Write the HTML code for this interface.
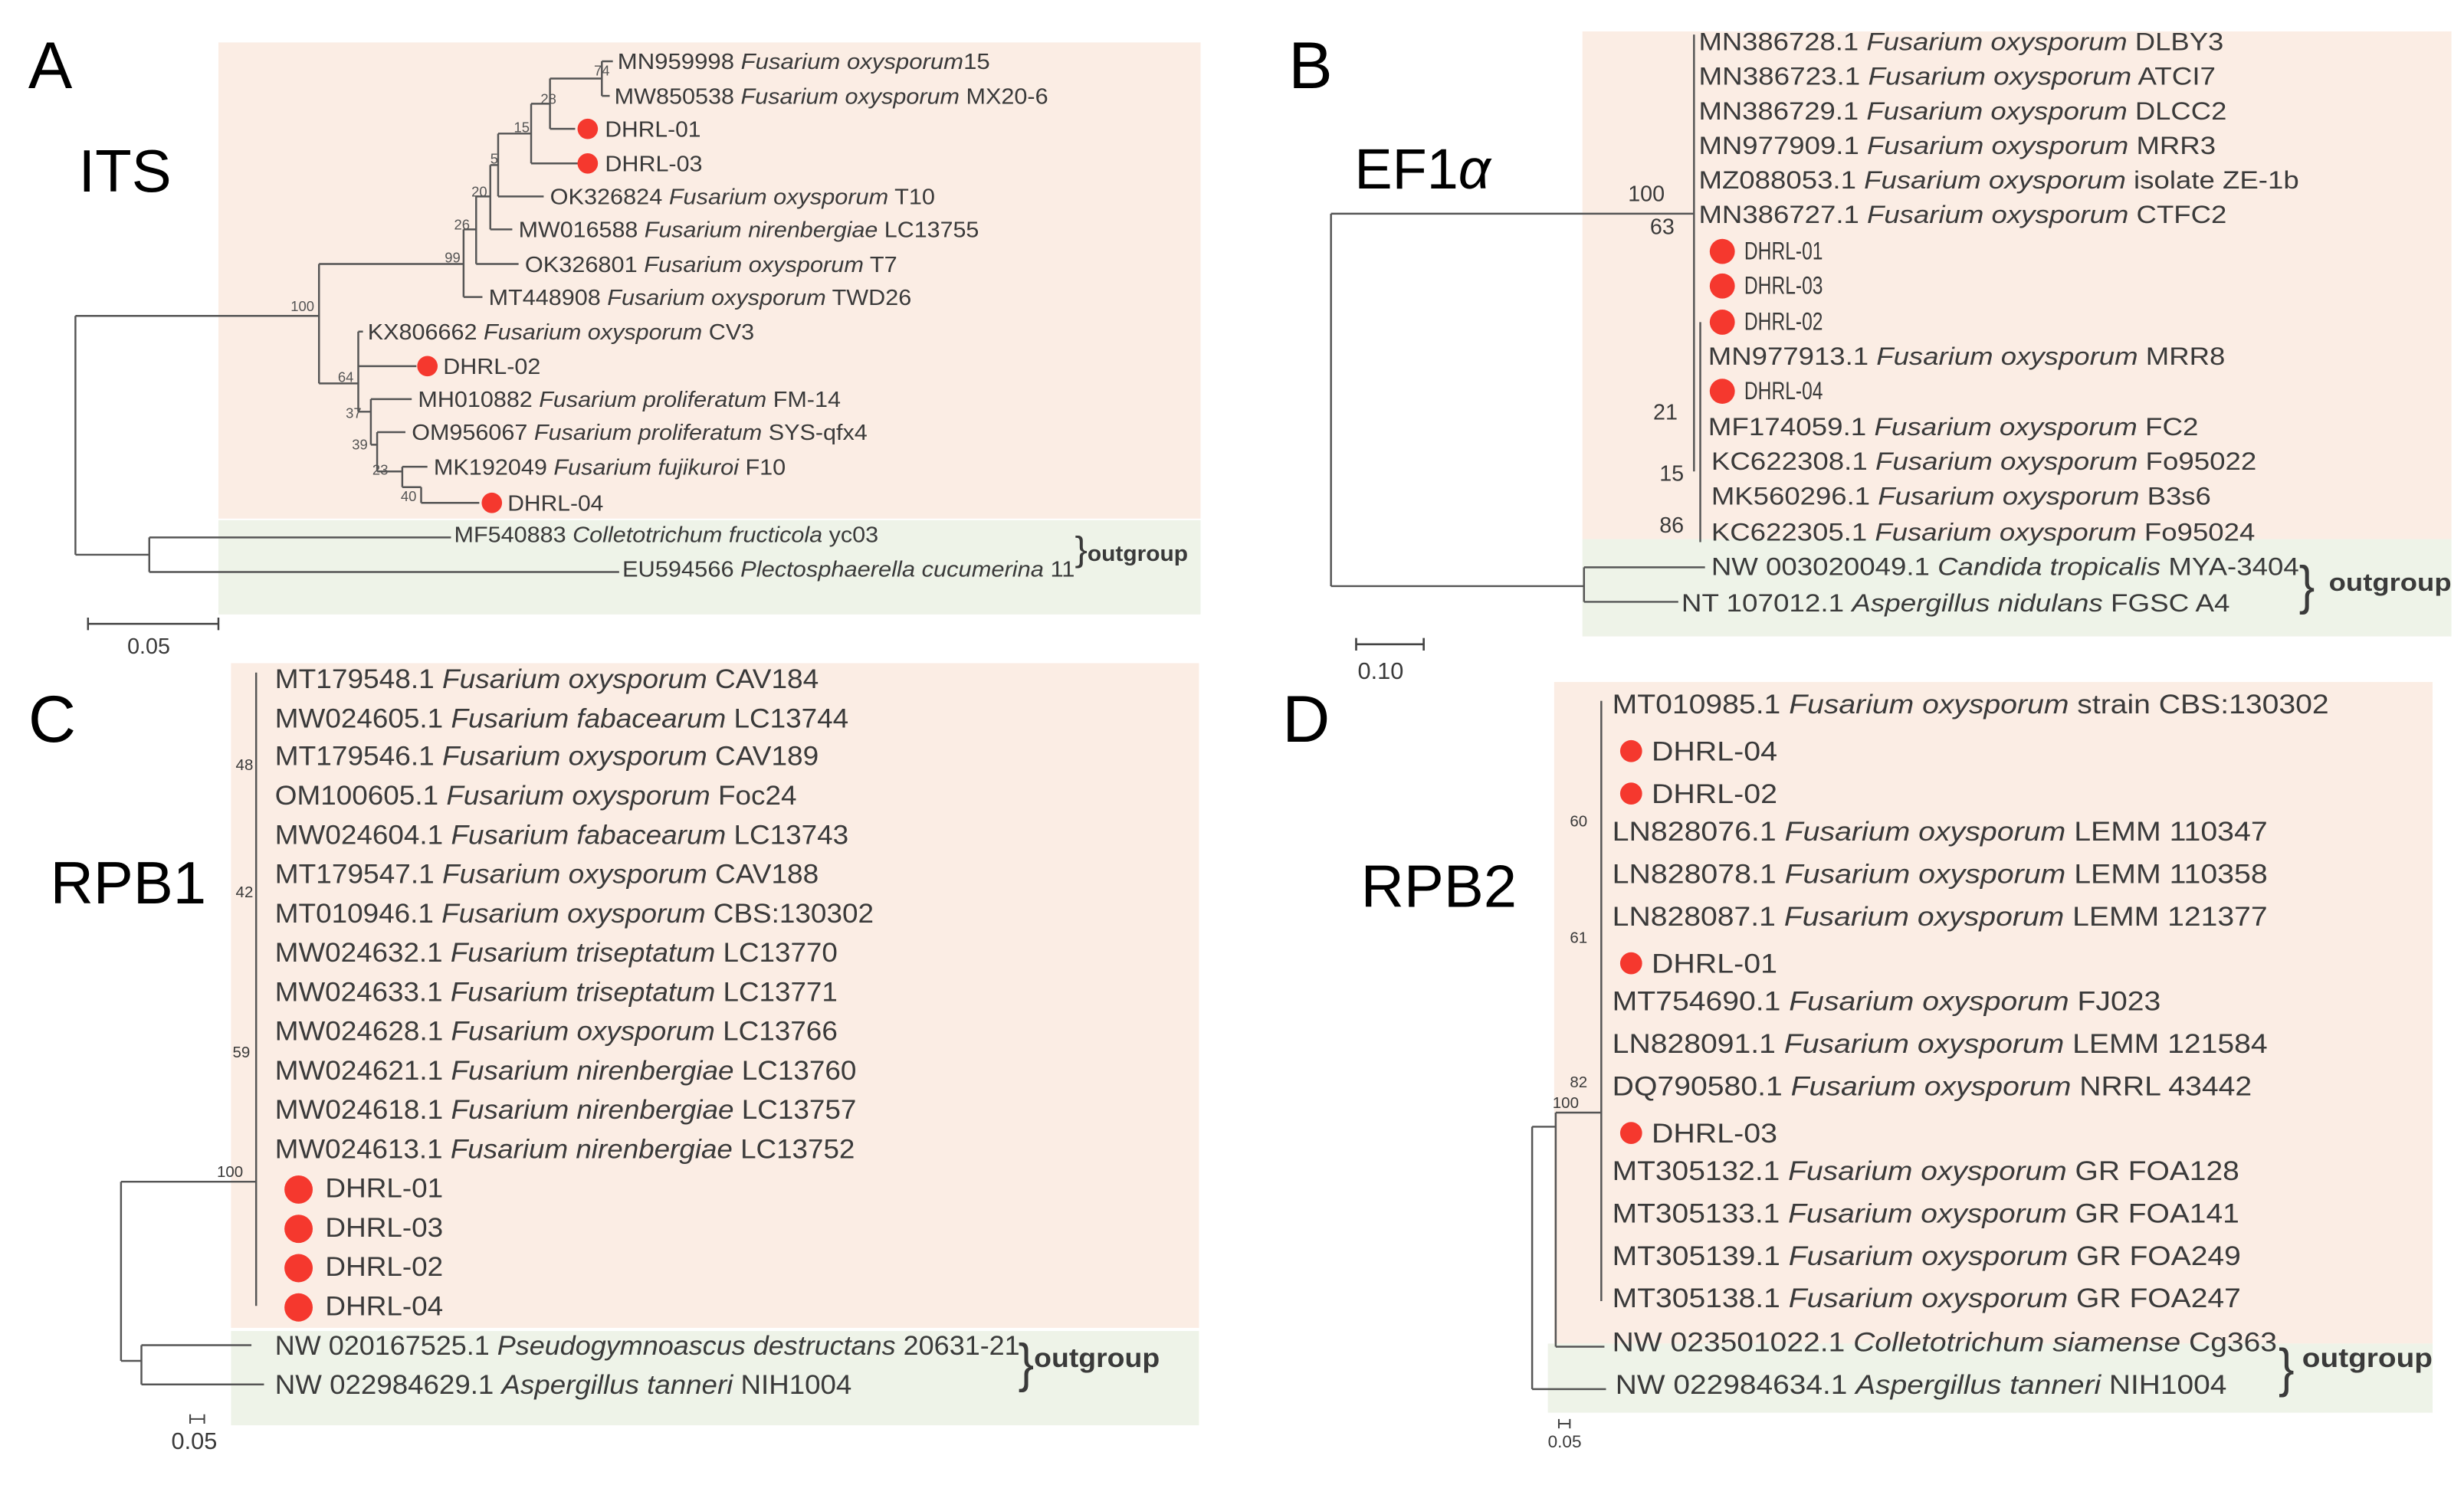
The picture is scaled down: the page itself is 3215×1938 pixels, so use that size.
<!DOCTYPE html>
<html><head><meta charset="utf-8"><style>html,body{margin:0;padding:0;background:#fff}svg{display:block}text{font-family:"Liberation Sans",sans-serif;fill:#3a3a3a}.i{font-style:italic}.b{font-size:9px;fill:#555}</style></head><body>
<svg width="3215" height="1938" viewBox="0 0 1568 945" preserveAspectRatio="none" xmlns="http://www.w3.org/2000/svg">
<rect x="139" y="27" width="625" height="303" fill="#fbede4"/>
<rect x="139" y="331" width="625" height="60" fill="#eef3e8"/>
<rect x="1007" y="20" width="553" height="323" fill="#fbede4"/>
<rect x="1007" y="343" width="553" height="62" fill="#eef3e8"/>
<rect x="147" y="422" width="616" height="423" fill="#fbede4"/>
<rect x="147" y="847" width="616" height="60" fill="#eef3e8"/>
<rect x="989" y="434" width="559" height="421" fill="#fbede4"/>
<rect x="985" y="855" width="563" height="44" fill="#eef3e8"/>

<text x="18" y="56" font-size="42" style="fill:#000">A</text>
<text x="50" y="122" font-size="38" style="fill:#000">ITS</text>
<text x="820" y="56" font-size="42" style="fill:#000">B</text>
<text x="862" y="120" font-size="36" style="fill:#000">EF1<tspan font-style="italic">α</tspan></text>
<text x="18" y="472" font-size="42" style="fill:#000">C</text>
<text x="32" y="575" font-size="38" style="fill:#000">RPB1</text>
<text x="816" y="472" font-size="42" style="fill:#000">D</text>
<text x="866" y="577" font-size="38" style="fill:#000">RPB2</text>

<g stroke="#555" stroke-width="1.2" fill="none">
<path d="M48 201V353M48 201H203M48 353H95M95 342V364M95 342H287M95 364H394"/>
<path d="M203 168V244M203 168H295M295 146V189M295 189H307M295 146H303M303 125V168M303 168H330M303 125H312M312 105V146M312 146H326M312 105H317M317 85V125M317 125H346M317 85H338M338 66V104M338 104H368M338 66H350M350 50V82M350 82H366M350 50H383M383 39V61M383 39H390M383 61H388"/>
<path d="M203 244H228M228 211V262M228 211H231M228 233H265M228 262H236M236 254V283M236 254H262M236 283H240M240 275V300M240 275H258M240 300H256M256 297V310M256 297H272M256 310H268M268 310V320M268 320H305"/>
</g>
<g class="b">
<text x="378" y="48" class="b">74</text><text x="344" y="66" class="b">28</text><text x="327" y="84" class="b">15</text><text x="312" y="104" class="b">5</text><text x="300" y="125" class="b">20</text><text x="289" y="146" class="b">26</text><text x="283" y="167" class="b">99</text><text x="185" y="198" class="b">100</text><text x="215" y="243" class="b">64</text><text x="220" y="266" class="b">37</text><text x="224" y="286" class="b">39</text><text x="237" y="302" class="b">23</text><text x="255" y="319" class="b">40</text>
</g>
<g font-size="14">
<text x="393" y="44" textLength="237" lengthAdjust="spacingAndGlyphs">MN959998 <tspan class="i">Fusarium oxysporum</tspan>15</text>
<text x="391" y="66" textLength="276" lengthAdjust="spacingAndGlyphs">MW850538 <tspan class="i">Fusarium oxysporum</tspan> MX20-6</text>
<text x="385" y="87" textLength="61" lengthAdjust="spacingAndGlyphs">DHRL-01</text>
<text x="385" y="109" textLength="62" lengthAdjust="spacingAndGlyphs">DHRL-03</text>
<text x="350" y="130" textLength="245" lengthAdjust="spacingAndGlyphs">OK326824 <tspan class="i">Fusarium oxysporum</tspan> T10</text>
<text x="330" y="151" textLength="293" lengthAdjust="spacingAndGlyphs">MW016588 <tspan class="i">Fusarium nirenbergiae</tspan> LC13755</text>
<text x="334" y="173" textLength="237" lengthAdjust="spacingAndGlyphs">OK326801 <tspan class="i">Fusarium oxysporum</tspan> T7</text>
<text x="311" y="194" textLength="269" lengthAdjust="spacingAndGlyphs">MT448908 <tspan class="i">Fusarium oxysporum</tspan> TWD26</text>
<text x="234" y="216" textLength="246" lengthAdjust="spacingAndGlyphs">KX806662 <tspan class="i">Fusarium oxysporum</tspan> CV3</text>
<text x="282" y="238" textLength="62" lengthAdjust="spacingAndGlyphs">DHRL-02</text>
<text x="266" y="259" textLength="269" lengthAdjust="spacingAndGlyphs">MH010882 <tspan class="i">Fusarium proliferatum</tspan> FM-14</text>
<text x="262" y="280" textLength="290" lengthAdjust="spacingAndGlyphs">OM956067 <tspan class="i">Fusarium proliferatum</tspan> SYS-qfx4</text>
<text x="276" y="302" textLength="224" lengthAdjust="spacingAndGlyphs">MK192049 <tspan class="i">Fusarium fujikuroi</tspan> F10</text>
<text x="323" y="325" textLength="61" lengthAdjust="spacingAndGlyphs">DHRL-04</text>
<text x="289" y="345" textLength="270" lengthAdjust="spacingAndGlyphs">MF540883 <tspan class="i">Colletotrichum fructicola</tspan> yc03</text>
<text x="396" y="367" textLength="288" lengthAdjust="spacingAndGlyphs">EU594566 <tspan class="i">Plectosphaerella cucumerina</tspan> 11</text>
<text x="684" y="357" font-size="22" textLength="8" lengthAdjust="spacingAndGlyphs">}</text>
<text x="692" y="357" font-weight="bold" textLength="64" lengthAdjust="spacingAndGlyphs">outgroup</text>
</g>
<g fill="#f5382e"><circle cx="374" cy="82" r="6.5"/><circle cx="374" cy="104" r="6.5"/><circle cx="272" cy="233" r="6.5"/><circle cx="313" cy="320" r="6.5"/></g>
<path d="M56 397H139M56 393V401M139 393V401" stroke="#444" stroke-width="1.2"/>
<text x="81" y="416" font-size="14">0.05</text>

<g stroke="#555" stroke-width="1.2" fill="none">
<path d="M847 136V373M847 136H1078M847 373H1008M1008 361V383M1008 361H1085M1008 383H1068"/>
<path d="M1078 22V268M1078 205V300M1082 205V345"/>
</g>
<g fill="#444" font-size="14"><text x="1036" y="128">100</text><text x="1050" y="149">63</text><text x="1052" y="267">21</text><text x="1056" y="306">15</text><text x="1056" y="339">86</text></g>
<g font-size="16">
<text x="1081" y="32" textLength="334" lengthAdjust="spacingAndGlyphs">MN386728.1 <tspan class="i">Fusarium oxysporum</tspan> DLBY3</text>
<text x="1081" y="54" textLength="329" lengthAdjust="spacingAndGlyphs">MN386723.1 <tspan class="i">Fusarium oxysporum</tspan> ATCI7</text>
<text x="1081" y="76" textLength="336" lengthAdjust="spacingAndGlyphs">MN386729.1 <tspan class="i">Fusarium oxysporum</tspan> DLCC2</text>
<text x="1081" y="98" textLength="329" lengthAdjust="spacingAndGlyphs">MN977909.1 <tspan class="i">Fusarium oxysporum</tspan> MRR3</text>
<text x="1081" y="120" textLength="382" lengthAdjust="spacingAndGlyphs">MZ088053.1 <tspan class="i">Fusarium oxysporum</tspan> isolate ZE-1b</text>
<text x="1081" y="142" textLength="336" lengthAdjust="spacingAndGlyphs">MN386727.1 <tspan class="i">Fusarium oxysporum</tspan> CTFC2</text>
<text x="1110" y="165" textLength="50" lengthAdjust="spacingAndGlyphs">DHRL-01</text>
<text x="1110" y="187" textLength="50" lengthAdjust="spacingAndGlyphs">DHRL-03</text>
<text x="1110" y="210" textLength="50" lengthAdjust="spacingAndGlyphs">DHRL-02</text>
<text x="1087" y="232" textLength="329" lengthAdjust="spacingAndGlyphs">MN977913.1 <tspan class="i">Fusarium oxysporum</tspan> MRR8</text>
<text x="1110" y="254" textLength="50" lengthAdjust="spacingAndGlyphs">DHRL-04</text>
<text x="1087" y="277" textLength="312" lengthAdjust="spacingAndGlyphs">MF174059.1 <tspan class="i">Fusarium oxysporum</tspan> FC2</text>
<text x="1089" y="299" textLength="347" lengthAdjust="spacingAndGlyphs">KC622308.1 <tspan class="i">Fusarium oxysporum</tspan> Fo95022</text>
<text x="1089" y="321" textLength="318" lengthAdjust="spacingAndGlyphs">MK560296.1 <tspan class="i">Fusarium oxysporum</tspan> B3s6</text>
<text x="1089" y="344" textLength="346" lengthAdjust="spacingAndGlyphs">KC622305.1 <tspan class="i">Fusarium oxysporum</tspan> Fo95024</text>
<text x="1089" y="366" textLength="374" lengthAdjust="spacingAndGlyphs">NW 003020049.1 <tspan class="i">Candida tropicalis</tspan> MYA-3404</text>
<text x="1070" y="389" textLength="349" lengthAdjust="spacingAndGlyphs">NT 107012.1 <tspan class="i">Aspergillus nidulans</tspan> FGSC A4</text>
<text x="1463" y="384" font-size="34" textLength="10" lengthAdjust="spacingAndGlyphs">}</text>
<text x="1482" y="376" font-weight="bold" textLength="78" lengthAdjust="spacingAndGlyphs">outgroup</text>
</g>
<g fill="#f5382e"><circle cx="1096" cy="160" r="8"/><circle cx="1096" cy="182" r="8"/><circle cx="1096" cy="205" r="8"/><circle cx="1096" cy="249" r="8"/></g>
<path d="M863 410H906M863 406V414M906 406V414" stroke="#444" stroke-width="1.3"/>
<text x="864" y="432" font-size="15">0.10</text>

<g stroke="#555" stroke-width="1.2" fill="none">
<path d="M77 752V866M77 752H163M163 428V831M77 866H90M90 856V881M90 856H160M90 881H168"/>
</g>
<g font-size="10" fill="#555"><text x="150" y="490">48</text><text x="150" y="571">42</text><text x="148" y="673">59</text><text x="138" y="749">100</text></g>
<g font-size="17">
<text x="175" y="438" textLength="346" lengthAdjust="spacingAndGlyphs">MT179548.1 <tspan class="i">Fusarium oxysporum</tspan> CAV184</text>
<text x="175" y="463" textLength="365" lengthAdjust="spacingAndGlyphs">MW024605.1 <tspan class="i">Fusarium fabacearum</tspan> LC13744</text>
<text x="175" y="487" textLength="346" lengthAdjust="spacingAndGlyphs">MT179546.1 <tspan class="i">Fusarium oxysporum</tspan> CAV189</text>
<text x="175" y="512" textLength="332" lengthAdjust="spacingAndGlyphs">OM100605.1 <tspan class="i">Fusarium oxysporum</tspan> Foc24</text>
<text x="175" y="537" textLength="365" lengthAdjust="spacingAndGlyphs">MW024604.1 <tspan class="i">Fusarium fabacearum</tspan> LC13743</text>
<text x="175" y="562" textLength="346" lengthAdjust="spacingAndGlyphs">MT179547.1 <tspan class="i">Fusarium oxysporum</tspan> CAV188</text>
<text x="175" y="587" textLength="381" lengthAdjust="spacingAndGlyphs">MT010946.1 <tspan class="i">Fusarium oxysporum</tspan> CBS:130302</text>
<text x="175" y="612" textLength="358" lengthAdjust="spacingAndGlyphs">MW024632.1 <tspan class="i">Fusarium triseptatum</tspan> LC13770</text>
<text x="175" y="637" textLength="358" lengthAdjust="spacingAndGlyphs">MW024633.1 <tspan class="i">Fusarium triseptatum</tspan> LC13771</text>
<text x="175" y="662" textLength="358" lengthAdjust="spacingAndGlyphs">MW024628.1 <tspan class="i">Fusarium oxysporum</tspan> LC13766</text>
<text x="175" y="687" textLength="370" lengthAdjust="spacingAndGlyphs">MW024621.1 <tspan class="i">Fusarium nirenbergiae</tspan> LC13760</text>
<text x="175" y="712" textLength="370" lengthAdjust="spacingAndGlyphs">MW024618.1 <tspan class="i">Fusarium nirenbergiae</tspan> LC13757</text>
<text x="175" y="737" textLength="369" lengthAdjust="spacingAndGlyphs">MW024613.1 <tspan class="i">Fusarium nirenbergiae</tspan> LC13752</text>
<text x="207" y="762" textLength="75" lengthAdjust="spacingAndGlyphs">DHRL-01</text>
<text x="207" y="787" textLength="75" lengthAdjust="spacingAndGlyphs">DHRL-03</text>
<text x="207" y="812" textLength="75" lengthAdjust="spacingAndGlyphs">DHRL-02</text>
<text x="207" y="837" textLength="75" lengthAdjust="spacingAndGlyphs">DHRL-04</text>
<text x="175" y="862" textLength="474" lengthAdjust="spacingAndGlyphs">NW 020167525.1 <tspan class="i">Pseudogymnoascus destructans</tspan> 20631-21</text>
<text x="175" y="887" textLength="367" lengthAdjust="spacingAndGlyphs">NW 022984629.1 <tspan class="i">Aspergillus tanneri</tspan> NIH1004</text>
<text x="648" y="879" font-size="34" textLength="10" lengthAdjust="spacingAndGlyphs">}</text>
<text x="658" y="870" font-weight="bold" textLength="80" lengthAdjust="spacingAndGlyphs">outgroup</text>
</g>
<g fill="#f5382e"><circle cx="190" cy="757" r="9"/><circle cx="190" cy="782" r="9"/><circle cx="190" cy="807" r="9"/><circle cx="190" cy="832" r="9"/></g>
<path d="M121 903H130M121 900V906M130 900V906" stroke="#444" stroke-width="1"/>
<text x="109" y="922" font-size="15">0.05</text>

<g stroke="#555" stroke-width="1.2" fill="none">
<path d="M975 717V884M975 717H990M990 708V857M990 708H1019M1019 446V828M990 857H1021M975 884H1022"/>
</g>
<g font-size="10" fill="#555"><text x="999" y="526">60</text><text x="999" y="600">61</text><text x="999" y="692">82</text><text x="988" y="705">100</text></g>
<g font-size="17">
<text x="1026" y="454" textLength="456" lengthAdjust="spacingAndGlyphs">MT010985.1 <tspan class="i">Fusarium oxysporum</tspan> strain CBS:130302</text>
<text x="1051" y="484" textLength="80" lengthAdjust="spacingAndGlyphs">DHRL-04</text>
<text x="1051" y="511" textLength="80" lengthAdjust="spacingAndGlyphs">DHRL-02</text>
<text x="1026" y="535" textLength="417" lengthAdjust="spacingAndGlyphs">LN828076.1 <tspan class="i">Fusarium oxysporum</tspan> LEMM 110347</text>
<text x="1026" y="562" textLength="417" lengthAdjust="spacingAndGlyphs">LN828078.1 <tspan class="i">Fusarium oxysporum</tspan> LEMM 110358</text>
<text x="1026" y="589" textLength="417" lengthAdjust="spacingAndGlyphs">LN828087.1 <tspan class="i">Fusarium oxysporum</tspan> LEMM 121377</text>
<text x="1051" y="619" textLength="80" lengthAdjust="spacingAndGlyphs">DHRL-01</text>
<text x="1026" y="643" textLength="349" lengthAdjust="spacingAndGlyphs">MT754690.1 <tspan class="i">Fusarium oxysporum</tspan> FJ023</text>
<text x="1026" y="670" textLength="417" lengthAdjust="spacingAndGlyphs">LN828091.1 <tspan class="i">Fusarium oxysporum</tspan> LEMM 121584</text>
<text x="1026" y="697" textLength="407" lengthAdjust="spacingAndGlyphs">DQ790580.1 <tspan class="i">Fusarium oxysporum</tspan> NRRL 43442</text>
<text x="1051" y="727" textLength="80" lengthAdjust="spacingAndGlyphs">DHRL-03</text>
<text x="1026" y="751" textLength="399" lengthAdjust="spacingAndGlyphs">MT305132.1 <tspan class="i">Fusarium oxysporum</tspan> GR FOA128</text>
<text x="1026" y="778" textLength="399" lengthAdjust="spacingAndGlyphs">MT305133.1 <tspan class="i">Fusarium oxysporum</tspan> GR FOA141</text>
<text x="1026" y="805" textLength="400" lengthAdjust="spacingAndGlyphs">MT305139.1 <tspan class="i">Fusarium oxysporum</tspan> GR FOA249</text>
<text x="1026" y="832" textLength="400" lengthAdjust="spacingAndGlyphs">MT305138.1 <tspan class="i">Fusarium oxysporum</tspan> GR FOA247</text>
<text x="1026" y="860" textLength="423" lengthAdjust="spacingAndGlyphs">NW 023501022.1 <tspan class="i">Colletotrichum siamense</tspan> Cg363</text>
<text x="1028" y="887" textLength="389" lengthAdjust="spacingAndGlyphs">NW 022984634.1 <tspan class="i">Aspergillus tanneri</tspan> NIH1004</text>
<text x="1450" y="882" font-size="34" textLength="10" lengthAdjust="spacingAndGlyphs">}</text>
<text x="1465" y="870" font-weight="bold" textLength="83" lengthAdjust="spacingAndGlyphs">outgroup</text>
</g>
<g fill="#f5382e"><circle cx="1038" cy="478" r="7"/><circle cx="1038" cy="505" r="7"/><circle cx="1038" cy="613" r="7"/><circle cx="1038" cy="721" r="7"/></g>
<path d="M992 906H999M992 903V909M999 903V909" stroke="#444" stroke-width="1"/>
<text x="985" y="921" font-size="11">0.05</text>
</svg>
</body></html>
